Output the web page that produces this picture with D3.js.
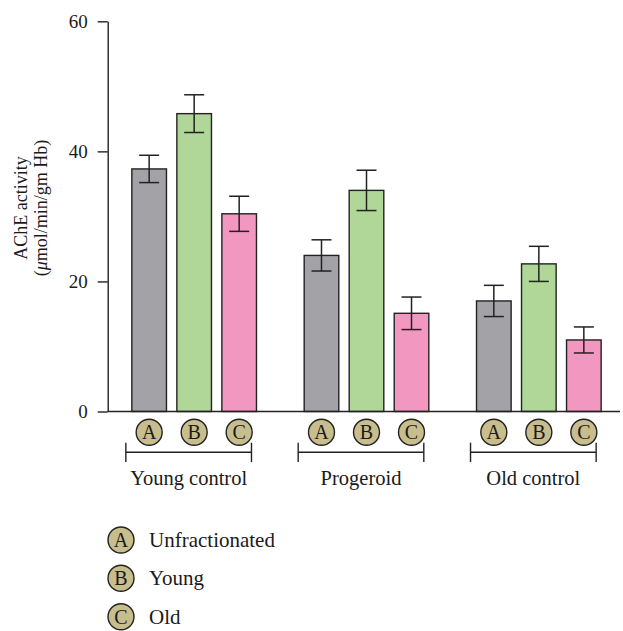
<!DOCTYPE html>
<html>
<head>
<meta charset="utf-8">
<script src="https://cdn.jsdelivr.net/npm/d3@7"></script>
<style>
  html, body { margin: 0; padding: 0; background: #fff; }
  svg { display: block; }
  text { font-family: "Liberation Serif", "DejaVu Serif", serif; fill: #1a1a1a; }
</style>
</head>
<body>
<svg id="chart" width="623" height="631"></svg>
<script>
// ---- data ----
const groups = ["Young control", "Progeroid", "Old control"];
const fractions = ["A", "B", "C"];
const fractionNames = ["Unfractionated", "Young", "Old"];
const meanA = [37.3, 24.0, 17.0];
const meanB = [45.8, 34.0, 22.7];
const meanC = [30.4, 15.1, 11.0];
const errA = [2.1, 2.4, 2.4];
const errB = [2.9, 3.1, 2.7];
const errC = [2.7, 2.5, 2.0];
const yTicks = [0, 20, 40, 60];
const yLabel1 = "AChE activity";
const yLabel2Parts = ["(", "\u03BC", "mol/min/gm Hb)"];

const colors = { A: "#a3a2a7", B: "#b0d798", C: "#f297c0" };
const circleFill = "#c8bd8c";
const ink = "#222";

const means = { A: meanA, B: meanB, C: meanC };
const errs = { A: errA, B: errB, C: errC };

const svg = d3.select("#chart");

const y = d3.scaleLinear().domain([0, 60]).range([411.5, 21.3]);
const x0 = d3.scaleBand().domain(groups).range([108, 625]).padding(0);
const x1 = d3.scaleBand().domain(fractions).range([0, x0.bandwidth()])
  .paddingInner(0.231).paddingOuter(0.53);

const axisX = 107.7;

// y axis
const yAxis = d3.axisLeft(y).tickValues(yTicks).tickSize(10).tickSizeOuter(0).tickPadding(10);
const gy = svg.append("g").attr("transform", `translate(${axisX},0)`).call(yAxis);
gy.select(".domain").attr("stroke", ink).attr("stroke-width", 1.4);
gy.selectAll(".tick line").attr("stroke", ink).attr("stroke-width", 1.4);
gy.selectAll(".tick text").style("font-size", "19px").attr("fill", "#1a1a1a")
  .style("font-family", "'Liberation Serif', serif");

// bars
const data = [];
groups.forEach((g, gi) => fractions.forEach(f => data.push({ g, f, v: means[f][gi], e: errs[f][gi] })));

const gBars = svg.append("g");
gBars.selectAll("rect").data(data).join("rect")
  .attr("x", d => x0(d.g) + x1(d.f))
  .attr("y", d => y(d.v))
  .attr("width", x1.bandwidth())
  .attr("height", d => y(0) - y(d.v))
  .attr("fill", d => colors[d.f])
  .attr("stroke", ink).attr("stroke-width", 1.4);

// baseline
svg.append("line").attr("x1", axisX).attr("x2", 620).attr("y1", y(0)).attr("y2", y(0))
  .attr("stroke", ink).attr("stroke-width", 1.4);

// error bars
const capW = 20;
const gErr = svg.append("g").attr("stroke", ink).attr("stroke-width", 1.5);
data.forEach(d => {
  const cx = x0(d.g) + x1(d.f) + x1.bandwidth() / 2;
  gErr.append("line").attr("x1", cx).attr("x2", cx).attr("y1", y(d.v + d.e)).attr("y2", y(d.v - d.e));
  gErr.append("line").attr("x1", cx - capW / 2).attr("x2", cx + capW / 2).attr("y1", y(d.v + d.e)).attr("y2", y(d.v + d.e));
  gErr.append("line").attr("x1", cx - capW / 2).attr("x2", cx + capW / 2).attr("y1", y(d.v - d.e)).attr("y2", y(d.v - d.e));
});

// circle markers under bars
function badge(parent, cx, cy, letter) {
  const g = parent.append("g").attr("transform", `translate(${cx},${cy})`);
  g.append("circle").attr("r", 13).attr("fill", circleFill).attr("stroke", ink).attr("stroke-width", 1.4);
  g.append("text").attr("text-anchor", "middle").attr("y", 6.8)
    .style("font-size", "20px").text(letter);
}
data.forEach(d => {
  badge(svg, x0(d.g) + x1(d.f) + x1.bandwidth() / 2, 432.3, d.f);
});

// brackets + group labels
groups.forEach(g => {
  const a = x0(g) + x1("A") - 6;
  const b = x0(g) + x1("C") + x1.bandwidth() - 5;
  const bg = svg.append("g").attr("stroke", ink).attr("stroke-width", 1.4);
  bg.append("line").attr("x1", a).attr("x2", b).attr("y1", 452.3).attr("y2", 452.3);
  bg.append("line").attr("x1", a).attr("x2", a).attr("y1", 442.7).attr("y2", 462);
  bg.append("line").attr("x1", b).attr("x2", b).attr("y1", 442.7).attr("y2", 462);
  svg.append("text").attr("x", (a + b) / 2).attr("y", 485).attr("text-anchor", "middle")
    .style("font-size", "20.5px").text(g);
});

// y label
const yl = svg.append("text").attr("transform", "translate(0,208) rotate(-90)").attr("text-anchor", "middle")
  .style("font-size", "18px");
yl.append("tspan").attr("x", 0).attr("y", 27).text(yLabel1);
const l2 = yl.append("tspan").attr("x", 0).attr("y", 47);
l2.append("tspan").text(yLabel2Parts[0]);
l2.append("tspan").style("font-style", "italic").text(yLabel2Parts[1]);
l2.append("tspan").text(yLabel2Parts[2]);

// legend
const legY = [540, 578.3, 616.7];
fractions.forEach((f, i) => {
  badge(svg, 121, legY[i], f);
  svg.append("text").attr("x", 149).attr("y", legY[i] + 7).style("font-size", "21px").text(fractionNames[i]);
});
</script>
</body>
</html>
